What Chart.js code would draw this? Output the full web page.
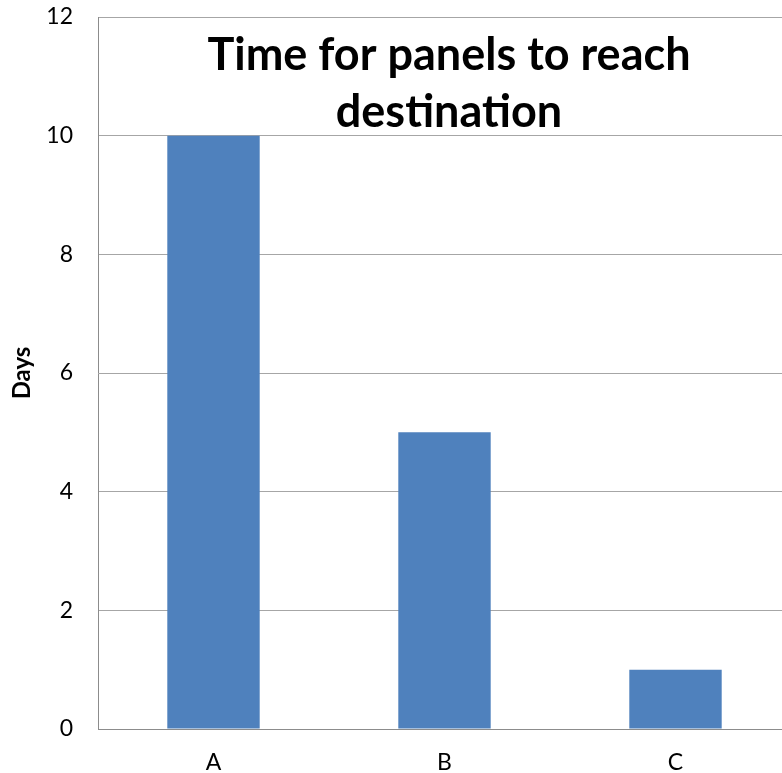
<!DOCTYPE html>
<html>
<head>
<meta charset="utf-8">
<script src="https://cdn.jsdelivr.net/npm/chart.js@4/dist/chart.umd.min.js"></script>
<style>
  html, body { margin: 0; padding: 0; background: #fff; overflow: hidden; }
  #wrap { position: relative; width: 792px; height: 773px; }
</style>
</head>
<body>
<div id="wrap"><canvas id="c" width="792" height="773"></canvas></div>
<script>
// Panel delivery times
const categories = ['A', 'B', 'C'];
const days = [10, 5, 1];
const titleLines = ['Time for panels to reach', 'destination'];
const yTicks = [0, 2, 4, 6, 8, 10, 12];

const FONT = 'Lato, "Open Sans", sans-serif';

// Title sits inside the plot area, above the bars
const innerTitle = {
  id: 'innerTitle',
  afterDatasetsDraw(chart) {
    const ctx = chart.ctx;
    ctx.save();
    ctx.fillStyle = '#000';
    ctx.font = 'bold 45px ' + FONT;
    ctx.textAlign = 'center';
    ctx.textBaseline = 'middle';
    const cx = 449;
    titleLines.forEach((line, i) => ctx.fillText(line, cx, 55 + i * 57));
    ctx.restore();
  }
};

new Chart(document.getElementById('c'), {
  type: 'bar',
  data: {
    labels: categories,
    datasets: [{
      data: days,
      backgroundColor: '#4F81BD',
      borderWidth: 0,
      categoryPercentage: 1,
      barPercentage: 0.4
    }]
  },
  options: {
    responsive: false,
    animation: false,
    devicePixelRatio: 1,
    layout: { padding: { top: 17, right: 1, left: 0, bottom: 0 } },
    plugins: { legend: { display: false }, tooltip: { enabled: false }, title: { display: false } },
    scales: {
      x: {
        grid: { display: false, drawTicks: false },
        border: { display: true, color: '#8c8c8c', width: 1 },
        ticks: { color: '#000', font: { family: FONT, size: 23 }, padding: 20 },
        afterFit(s) { s.height = 44; }
      },
      y: {
        min: 0, max: 12,
        afterBuildTicks(s) { s.ticks = yTicks.map(v => ({ value: v })); },
        grid: { color: '#a6a6a6', drawTicks: false },
        border: { display: true, color: '#8c8c8c', width: 1 },
        ticks: { color: '#000', font: { family: FONT, size: 23 }, padding: 25 },
        title: {
          display: true, text: 'Days', color: '#000',
          font: { family: FONT, size: 24, weight: 'bold' },
          padding: { top: 8, bottom: 0 }
        },
        afterFit(s) { s.width = 98; s.paddingTop = 0; s.paddingBottom = 0; }
      }
    }
  },
  plugins: [innerTitle]
});
</script>
</body>
</html>
